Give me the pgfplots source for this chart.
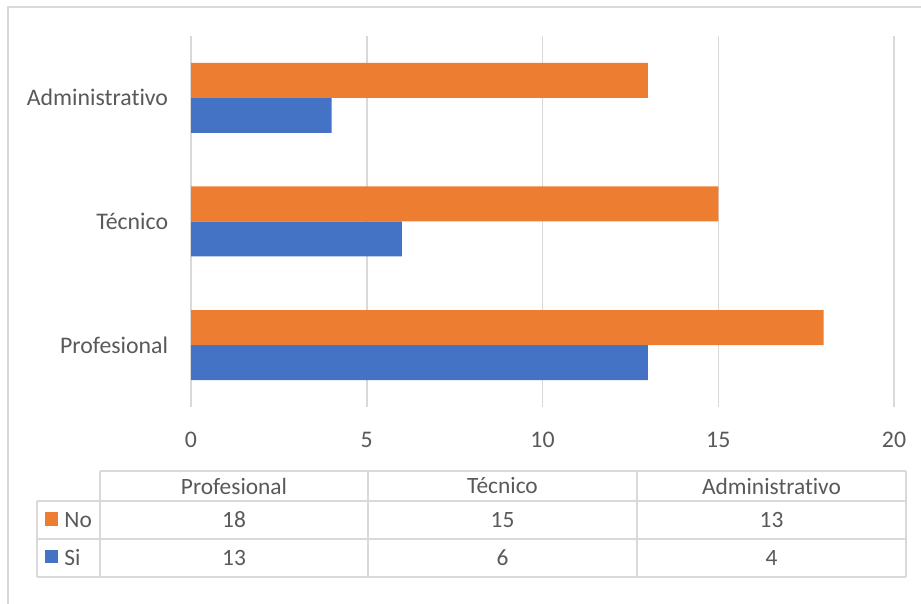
\documentclass[border=0pt]{standalone}
\usepackage{pgfplots}
\usepackage{pgfplotstable}
\pgfplotsset{compat=1.18}
\usepackage{fontspec}
\setmainfont{Carlito}[Ligatures=NoCommon]
\definecolor{cNo}{HTML}{ED7D31}
\definecolor{cSi}{HTML}{4472C4}
\definecolor{grd}{HTML}{D9D9D9}
\definecolor{txt}{HTML}{595959}
\pgfplotstableread{
cat No Si
0 18 13
1 15 6
2 13 4
}\datatable
\begin{document}
\begin{tikzpicture}[x=0.5pt,y=0.5pt,font=\fontsize{11.7}{14}\selectfont]
\useasboundingbox (0,0) rectangle (921,604);
\draw[grd,line width=0.75pt] (8,0) -- (8,597) -- (921,597);
\begin{axis}[
  at={(95.5pt,98.5pt)}, anchor=south west,
  scale only axis, width=351.5pt, height=185.5pt,
  xbar, bar width=17.5pt,
  xmin=0, xmax=20, ymin=-0.5, ymax=2.5,
  xtick={0,5,10,15,20},
  ytick={0,1,2}, yticklabels={Profesional,Técnico,Administrativo},
  axis line style={draw=none},
  tick style={draw=none},
  xmajorgrids, major grid style={grd,line width=0.75pt},
  /pgf/number format/assume math mode=true,
  tick label style={text=txt,font=\fontsize{11.9}{14}\selectfont},
  xticklabel style={anchor=center,inner sep=0pt,yshift=-16.5pt},
  yticklabel style={anchor=east,inner sep=0pt,xshift=-7pt},
]
\addplot[fill=cSi,draw=none,bar shift=-8.75pt] table[x=Si,y=cat]{\datatable};
\addplot[fill=cNo,draw=none,bar shift=8.75pt] table[x=No,y=cat]{\datatable};
\end{axis}
% data table below the chart
\begin{scope}[grd,line width=0.75pt]
\draw (100,133) -- (906,133);
\draw (37,103) -- (906,103);
\draw (37,65) -- (906,65);
\draw (37,27) -- (906,27);
\draw (37,103) -- (37,27);
\foreach \xx in {100,368,637,906} \draw (\xx,133) -- (\xx,27);
\end{scope}
\foreach \nm/\xc in {Profesional/234,Técnico/502.5,Administrativo/771.5}
  \node[text=txt,inner sep=0pt] at (\xc,118) {\nm};
\foreach \r/\xc in {0/234,1/502.5,2/771.5}{
  \pgfplotstablegetelem{\r}{No}\of\datatable
  \node[text=txt,inner sep=0pt] at (\xc,84) {\pgfplotsretval};
  \pgfplotstablegetelem{\r}{Si}\of\datatable
  \node[text=txt,inner sep=0pt] at (\xc,46) {\pgfplotsretval};
}
\fill[cNo] (45,78) rectangle (58,92);
\fill[cSi] (45,41) rectangle (58,54);
\node[text=txt,anchor=west,inner sep=0pt] at (64,84) {No};
\node[text=txt,anchor=west,inner sep=0pt] at (64,46) {Si};
\end{tikzpicture}
\end{document}
